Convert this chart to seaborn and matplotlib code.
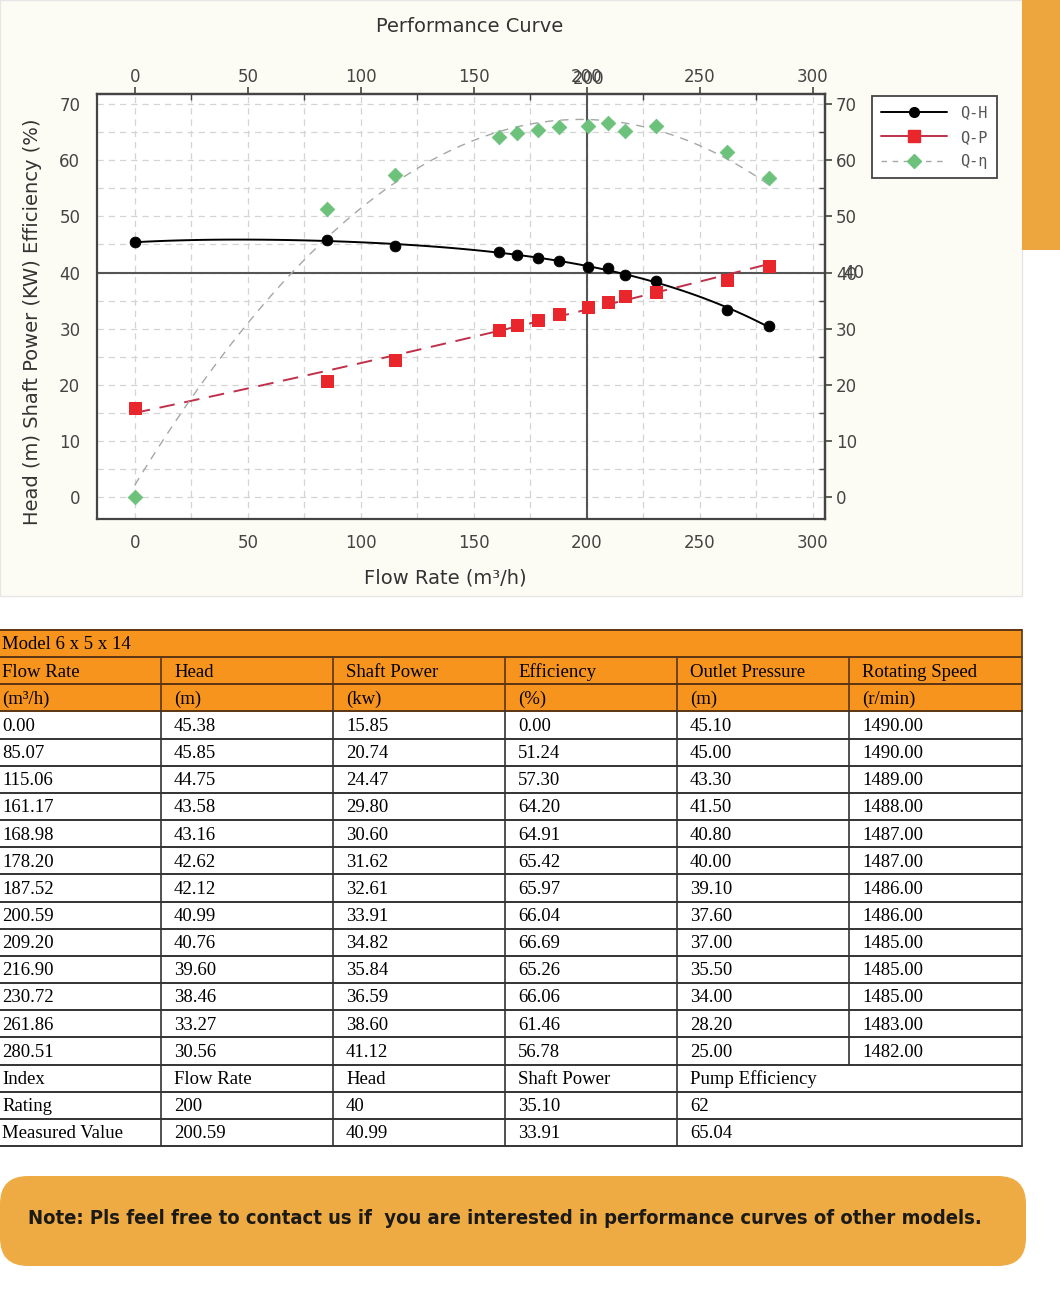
import numpy as np
import matplotlib
matplotlib.use('Agg')
import matplotlib.pyplot as plt
import matplotlib.transforms as mtransforms
from matplotlib.patches import Rectangle, FancyBboxPatch
from matplotlib.lines import Line2D
import seaborn as sns
import pandas as pd

# data from the test table
flow = [0.00, 85.07, 115.06, 161.17, 168.98, 178.20, 187.52, 200.59, 209.20, 216.90, 230.72, 261.86, 280.51]
head = [45.38, 45.85, 44.75, 43.58, 43.16, 42.62, 42.12, 40.99, 40.76, 39.60, 38.46, 33.27, 30.56]
power = [15.85, 20.74, 24.47, 29.80, 30.60, 31.62, 32.61, 33.91, 34.82, 35.84, 36.59, 38.60, 41.12]
eff = [0.00, 51.24, 57.30, 64.20, 64.91, 65.42, 65.97, 66.04, 66.69, 65.26, 66.06, 61.46, 56.78]
outlet = [45.10, 45.00, 43.30, 41.50, 40.80, 40.00, 39.10, 37.60, 37.00, 35.50, 34.00, 28.20, 25.00]
speed = [1490.00, 1490.00, 1489.00, 1488.00, 1487.00, 1487.00, 1486.00, 1486.00, 1485.00,
         1485.00, 1485.00, 1483.00, 1482.00]

model_name = 'Model 6 x 5 x 14'
col_names = ['Flow Rate', 'Head', 'Shaft Power', 'Efficiency', 'Outlet Pressure', 'Rotating Speed']
col_units = ['(m³/h)', '(m)', '(kw)', '(%)', '(m)', '(r/min)']
index_row = ['Index', 'Flow Rate', 'Head', 'Shaft Power', 'Pump Efficiency']
rating_row = ['Rating', '200', '40', '35.10', '62']
measured_row = ['Measured Value', '200.59', '40.99', '33.91', '65.04']
rated_flow = 200
rated_head = 40
note = 'Note: Pls feel free to contact us if  you are interested in performance curves of other models.'

sns.set_style('white')
plt.rcParams['font.family'] = ['DejaVu Sans']

W, H = 1060, 1296
fig = plt.figure(figsize=(W / 100, H / 100), dpi=100, facecolor='white')

# full-figure pixel axes for background, table and note
tax = fig.add_axes([0, 0, 1, 1], zorder=0)
tax.set_xlim(0, W)
tax.set_ylim(H, 0)
tax.axis('off')
tax.add_patch(Rectangle((0, 0), 1022, 596, fc='#fdfcf4', ec='#e6e6e6', lw=1))
tax.add_patch(Rectangle((1022, 0), 38, 250, fc='#eda53d', ec='none'))

# chart
ax = fig.add_axes([97 / W, 1 - 519 / H, 728 / W, 425 / H], zorder=2)
ax.set_facecolor('white')
df = pd.DataFrame({'flow': flow, 'head': head, 'power': power, 'eff': eff})

sns.regplot(data=df, x='flow', y='head', order=4, ci=None, scatter=False, ax=ax,
            line_kws=dict(color='black', lw=1.4, zorder=3))
sns.regplot(data=df, x='flow', y='power', order=2, ci=None, scatter=False, ax=ax,
            line_kws=dict(color='#c0304a', lw=1.4, ls=(0, (8, 5)), zorder=3))
sns.regplot(data=df, x='flow', y='eff', order=2, ci=None, scatter=False, ax=ax,
            line_kws=dict(color='#a4a8a4', lw=1.0, ls=(0, (6, 5)), zorder=3))

sns.scatterplot(data=df, x='flow', y='head', marker='o', s=60, color='black',
                edgecolor='black', ax=ax, zorder=5)
sns.scatterplot(data=df, x='flow', y='power', marker='s', s=80, color='#e8262b',
                edgecolor='#e8262b', ax=ax, zorder=5)
sns.scatterplot(data=df, x='flow', y='eff', marker='D', s=55, color='#6dc27b',
                edgecolor='#6dc27b', ax=ax, zorder=5)

ax.axvline(rated_flow, color='#555555', lw=1.5, zorder=2)
ax.axhline(rated_head, color='#555555', lw=1.5, zorder=2)

ax.set_xlim(-16.7, 305.4)
ax.set_ylim(-3.9, 71.8)
ax.set_xticks(range(0, 301, 50))
ax.set_xticks(range(0, 301, 25), minor=True)
ax.set_yticks(range(0, 71, 10))
ax.set_yticks(range(0, 71, 5), minor=True)
ax.grid(which='both', ls=(0, (5, 4)), color='#d4d4d4', lw=0.9)
ax.set_axisbelow(True)
ax.tick_params(which='major', direction='out', length=5, width=1.2, color='#444444',
               labelsize=12, labelcolor='#444444')
ax.tick_params(axis='x', which='major', pad=6)
ax.tick_params(axis='y', which='major', pad=7)
ax.tick_params(which='minor', direction='in', length=4, width=1.0, color='#444444',
               top=True, right=True)
for sp in ax.spines.values():
    sp.set_color('#444444')
    sp.set_linewidth(1.6)
ax.set_xlabel('')
ax.set_ylabel('')

# duplicate scales on top and right
top_ax = ax.secondary_xaxis('top')
top_ax.set_xticks(range(0, 301, 50))
top_ax.tick_params(direction='out', length=5, width=1.2, color='#444444',
                   labelsize=12, labelcolor='#444444', pad=1)
right_ax = ax.secondary_yaxis('right')
right_ax.set_yticks(range(0, 71, 10))
right_ax.tick_params(direction='out', length=5, width=1.2, color='#444444',
                     labelsize=12, labelcolor='#444444', pad=3)
for sec in (top_ax, right_ax):
    for sp in sec.spines.values():
        sp.set_color('#444444')
        sp.set_linewidth(1.6)

# doubled rating labels
ax.text(rated_flow + 0.6, 1 + 15 / 425, str(rated_flow),
        transform=mtransforms.blended_transform_factory(ax.transData, ax.transAxes),
        ha='center', va='center', fontsize=12, color='#444444')
ax.text(1 + 18 / 728, rated_head, str(rated_head),
        transform=mtransforms.blended_transform_factory(ax.transAxes, ax.transData),
        ha='left', va='center', fontsize=12, color='#444444')

fig.text(470 / W, 1 - 26 / H, 'Performance Curve', ha='center', va='center', fontsize=14, color='#333333')
fig.text(445 / W, 1 - 578 / H, 'Flow Rate (m³/h)', ha='center', va='center', fontsize=14, color='#333333')
fig.text(33 / W, 1 - 322 / H, 'Head (m) Shaft Power (KW) Efficiency (%)', ha='center', va='center',
         rotation=90, fontsize=14, color='#333333')

handles = [
    Line2D([], [], color='black', lw=1.4, marker='o', ms=7, mfc='black', mec='black'),
    Line2D([], [], color='#c0304a', lw=1.4, marker='s', ms=8, mfc='#e8262b', mec='#e8262b'),
    Line2D([], [], color='#a4a8a4', lw=1.0, ls=(0, (4, 4)), marker='D', ms=7, mfc='#6dc27b', mec='#6dc27b'),
]
leg = fig.legend(handles, ['Q-H', 'Q-P', 'Q-η'], loc='upper left', bbox_to_anchor=(872 / W, 1 - 96 / H),
                 frameon=True, fancybox=False, edgecolor='#444444', framealpha=1,
                 prop=dict(family='DejaVu Sans Mono', size=11), labelcolor='#555555',
                 handlelength=4.3, handletextpad=0.9, borderaxespad=0, labelspacing=0.62,
                 borderpad=0.6)
leg.get_frame().set_linewidth(1.3)

# table
top = 630
row_h = (1146 - 630) / 19
col_x = [0, 161, 333, 505, 677, 849, 1022]
tax.add_patch(Rectangle((0, top), 1022, 3 * row_h, fc='#f7941d', ec='none'))

rows = [[model_name], col_names, col_units]
for i in range(len(flow)):
    rows.append(['%.2f' % v for v in (flow[i], head[i], power[i], eff[i], outlet[i], speed[i])])
rows += [index_row, rating_row, measured_row]

for i in range(len(rows) + 1):
    y = top + i * row_h
    c = '#5b3512' if i <= 3 else '#333333'
    tax.plot([0, 1022], [y, y], color=c, lw=1.4)
for cx in col_x[1:6]:
    y_end = top + 16 * row_h if cx == 849 else top + 19 * row_h
    tax.plot([cx, cx], [top + row_h, top + 3 * row_h], color='#5b3512', lw=1.2)
    tax.plot([cx, cx], [top + 3 * row_h, y_end], color='#333333', lw=1.2)
tax.plot([1022, 1022], [top, top + 3 * row_h], color='#5b3512', lw=1.2)
tax.plot([1022, 1022], [top + 3 * row_h, top + 19 * row_h], color='#333333', lw=1.2)

for i, row in enumerate(rows):
    yc = top + (i + 0.55) * row_h
    for j, txt in enumerate(row):
        x = col_x[j] + (2 if j == 0 else 13)
        tax.text(x, yc, txt, ha='left', va='center', fontsize=13.5,
                 family='Liberation Serif', color='black')

# note banner
tax.add_patch(FancyBboxPatch((0, 1176), 1026, 90, boxstyle='round,pad=0,rounding_size=28',
                             fc='#eeab44', ec='none'))
tax.text(505, 1218, note, ha='center', va='center', fontsize=14.5, fontweight='bold',
         fontstretch='condensed', family='DejaVu Sans', color='#1c1a17')

fig.savefig('out.png', dpi=100, facecolor='white')
